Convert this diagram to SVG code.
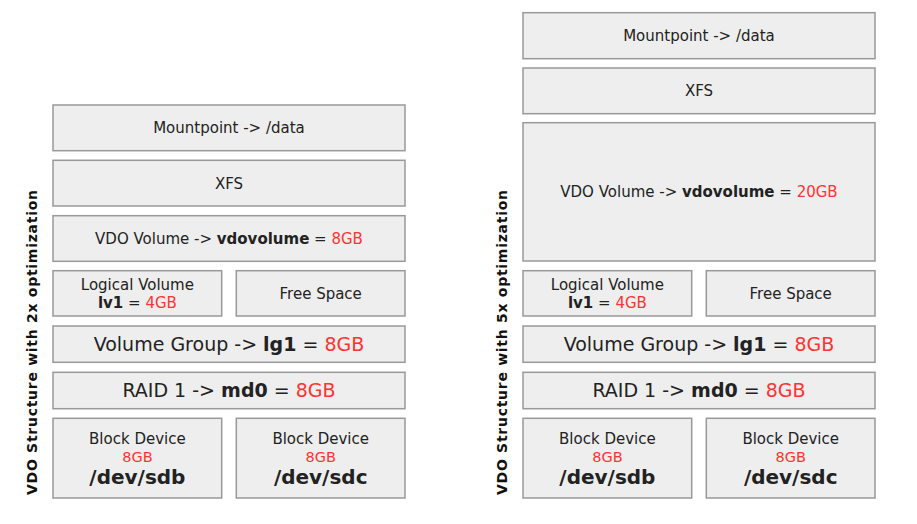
<svg xmlns="http://www.w3.org/2000/svg" width="917" height="524" viewBox="0 0 917 524">
<style>
.box{fill:#eeeeee;stroke:#999999;stroke-width:1.5}
text{font-family:"DejaVu Sans",Verdana,sans-serif;fill:#222222;text-anchor:middle}
.s{font-size:15px}
.g{font-size:14.5px}
.m{font-size:19px}
.dev{font-size:20px;font-weight:bold}
.b{font-weight:bold}
.r{fill:#ff3333}
.side{font-size:14px;font-weight:bold;fill:#111111}
</style>
<rect width="917" height="524" fill="#ffffff"/>

<g id="title-left"><text class="side" transform="translate(36.5,342.5) rotate(-90)" textLength="305" lengthAdjust="spacing">VDO Structure with 2x optimization</text></g>
<g id="mount-l"><rect class="box" x="53" y="105" width="352" height="45.7"/><text class="s" x="229" y="133.2">Mountpoint -&gt; /data</text></g>
<g id="xfs-l"><rect class="box" x="53" y="160.3" width="352" height="45.7"/><text class="s" x="229" y="188.9">XFS</text></g>
<g id="vdo-l"><rect class="box" x="53" y="215.7" width="352" height="45.6"/><text class="s" x="229" y="244">VDO Volume -&gt; <tspan class="b">vdovolume</tspan> = <tspan class="r">8GB</tspan></text></g>
<g id="lv-l"><rect class="box" x="53" y="270.7" width="168.7" height="45.3"/><text class="s" x="137.4" y="290">Logical Volume</text><text class="s" x="137.4" y="308.4"><tspan class="b">lv1</tspan> = <tspan class="r">4GB</tspan></text></g>
<g id="free-l"><rect class="box" x="236.3" y="270.7" width="168.7" height="45.3"/><text class="s" x="320.7" y="299.3">Free Space</text></g>
<g id="vg-l"><rect class="box" x="53" y="326" width="352" height="36.3"/><text class="m" x="229" y="351.2">Volume Group -&gt; <tspan class="b">lg1</tspan> = <tspan class="r">8GB</tspan></text></g>
<g id="raid-l"><rect class="box" x="53" y="372.3" width="352" height="36.4"/><text class="m" x="229" y="397.4">RAID 1 -&gt; <tspan class="b">md0</tspan> = <tspan class="r">8GB</tspan></text></g>
<g id="sdb-l"><rect class="box" x="53" y="418.3" width="168.7" height="79.7"/><text class="s" x="137.4" y="444.3">Block Device</text><text class="g r" x="137.4" y="462">8GB</text><text class="dev" x="137.4" y="483.5">/dev/sdb</text></g>
<g id="sdc-l"><rect class="box" x="236.3" y="418.3" width="168.7" height="79.7"/><text class="s" x="320.7" y="444.3">Block Device</text><text class="g r" x="320.7" y="462">8GB</text><text class="dev" x="320.7" y="483.5">/dev/sdc</text></g>

<g id="title-right"><text class="side" transform="translate(506.5,342.5) rotate(-90)" textLength="305" lengthAdjust="spacing">VDO Structure with 5x optimization</text></g>
<g id="mount-r"><rect class="box" x="523" y="12.7" width="352" height="46"/><text class="s" x="699" y="41.4">Mountpoint -&gt; /data</text></g>
<g id="xfs-r"><rect class="box" x="523" y="68" width="352" height="45.7"/><text class="s" x="699" y="96.3">XFS</text></g>
<g id="vdo-r"><rect class="box" x="523" y="122.7" width="352" height="138.3"/><text class="s" x="699" y="197.3">VDO Volume -&gt; <tspan class="b">vdovolume</tspan> = <tspan class="r">20GB</tspan></text></g>
<g id="lv-r"><rect class="box" x="523" y="270.7" width="168.7" height="45.3"/><text class="s" x="607.4" y="290">Logical Volume</text><text class="s" x="607.4" y="308.4"><tspan class="b">lv1</tspan> = <tspan class="r">4GB</tspan></text></g>
<g id="free-r"><rect class="box" x="706.3" y="270.7" width="168.7" height="45.3"/><text class="s" x="790.7" y="299.3">Free Space</text></g>
<g id="vg-r"><rect class="box" x="523" y="326" width="352" height="36.3"/><text class="m" x="699" y="351.2">Volume Group -&gt; <tspan class="b">lg1</tspan> = <tspan class="r">8GB</tspan></text></g>
<g id="raid-r"><rect class="box" x="523" y="372.3" width="352" height="36.4"/><text class="m" x="699" y="397.4">RAID 1 -&gt; <tspan class="b">md0</tspan> = <tspan class="r">8GB</tspan></text></g>
<g id="sdb-r"><rect class="box" x="523" y="418.3" width="168.7" height="79.7"/><text class="s" x="607.4" y="444.3">Block Device</text><text class="g r" x="607.4" y="462">8GB</text><text class="dev" x="607.4" y="483.5">/dev/sdb</text></g>
<g id="sdc-r"><rect class="box" x="706.3" y="418.3" width="168.7" height="79.7"/><text class="s" x="790.7" y="444.3">Block Device</text><text class="g r" x="790.7" y="462">8GB</text><text class="dev" x="790.7" y="483.5">/dev/sdc</text></g>

<g id="connectors"></g>
</svg>
